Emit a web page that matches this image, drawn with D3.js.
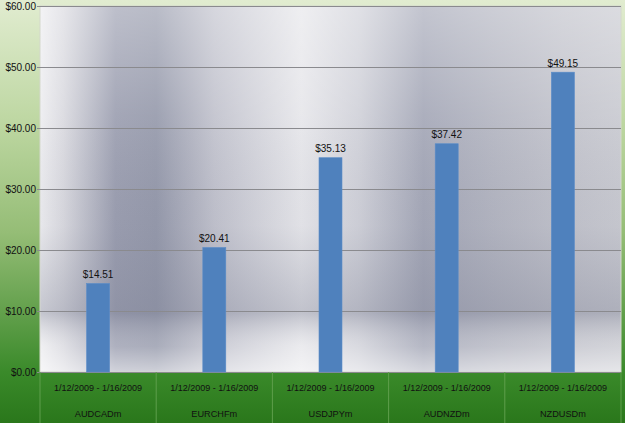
<!DOCTYPE html>
<html>
<head>
<meta charset="utf-8">
<script src="https://cdn.jsdelivr.net/npm/d3@7"></script>
<style>
  html, body { margin: 0; padding: 0; background: #fff; }
  svg { display: block; }
</style>
</head>
<body>
<div id="chart"></div>
<script>
(function () {

    // data
    const pairs = ["AUDCADm", "EURCHFm", "USDJPYm", "AUDNZDm", "NZDUSDm"];
    const periods = ["1/12/2009 - 1/16/2009", "1/12/2009 - 1/16/2009", "1/12/2009 - 1/16/2009", "1/12/2009 - 1/16/2009", "1/12/2009 - 1/16/2009"];
    const profits = [14.51, 20.41, 35.13, 37.42, 49.15];
    const yTicks = [0, 10, 20, 30, 40, 50, 60];

    const width = 625;
    const height = 423;
    const margin = ({ top: 6, right: 4, bottom: 51, left: 40 });
    const font = "'Liberation Sans', Arial, sans-serif";

    const svg = d3.select("#chart")
        .append("svg")
        .attr("width", width)
        .attr("height", height)
        .style("font-family", font);

    const defs = svg.append("defs");

    //Green chart background
    const bg = defs.append("linearGradient").attr("id", "bg")
        .attr("x1", 0).attr("y1", 0).attr("x2", 0).attr("y2", 1);
    [[0, "#e1ecd0"], [0.3, "#bcd6a0"], [0.55, "#95bd76"], [0.75, "#5f9e49"], [0.88, "#3a8a2a"], [1, "#2a771b"]]
        .forEach(([o, c]) => bg.append("stop").attr("offset", o).attr("stop-color", c));

    //Metallic plot fill
    const metal = defs.append("linearGradient").attr("id", "metal")
        .attr("x1", 0).attr("y1", 0).attr("x2", 1).attr("y2", 0);
    [[0, "#ededf0"], [0.04, "#d9d9df"], [0.13, "#9a9daf"], [0.2, "#9498aa"], [0.3, "#c0c1cc"], [0.45, "#e6e6ea"],
     [0.55, "#cfd0d8"], [0.66, "#a3a6b6"], [0.78, "#b2b4c0"], [0.9, "#c0c1ca"], [1, "#c8c9d0"]]
        .forEach(([o, c]) => metal.append("stop").attr("offset", o).attr("stop-color", c));

    const shade = defs.append("linearGradient").attr("id", "shade")
        .attr("x1", 0).attr("y1", 0).attr("x2", 0).attr("y2", 1);
    [[0, "#ffffff", 0.35], [0.3, "#ffffff", 0.1], [0.6, "#7c8094", 0.05], [0.84, "#7c8094", 0.35], [0.93, "#ffffff", 0.2], [1, "#ffffff", 0.55]]
        .forEach(([o, c, a]) => shade.append("stop").attr("offset", o).attr("stop-color", c).attr("stop-opacity", a));

    svg.append("rect")
        .attr("width", width)
        .attr("height", height)
        .attr("fill", "url(#bg)");

    const x = d3.scaleBand()
        .domain(d3.range(pairs.length))
        .range([margin.left, width - margin.right])
        .paddingInner(0)
        .paddingOuter(0);

    const y = d3.scaleLinear()
        .domain([0, 60])
        .range([height - margin.bottom, margin.top]);

    const plotW = width - margin.right - margin.left;
    const plotH = y(0) - y(60);

    svg.append("rect")
        .attr("x", margin.left).attr("y", margin.top)
        .attr("width", plotW).attr("height", plotH)
        .attr("fill", "url(#metal)");
    svg.append("rect")
        .attr("x", margin.left).attr("y", margin.top)
        .attr("width", plotW).attr("height", plotH)
        .attr("fill", "url(#shade)")
        .attr("stroke", "#d4d8cc")
        .attr("stroke-width", 1);

    //Y axis with gridlines
    const yAxisG = svg.append("g")
        .attr("transform", `translate(${margin.left},0)`)
        .call(d3.axisLeft(y).tickValues(yTicks).tickSize(-plotW).tickPadding(4)
            .tickFormat(d => "$" + d3.format(".2f")(d)));
    yAxisG.select(".domain").remove();
    yAxisG.selectAll(".tick line").attr("stroke", "#8a8a8e").attr("x1", -3);
    yAxisG.selectAll(".tick text")
        .attr("fill", "#111")
        .style("font-size", "10px")
        .style("font-family", font);

    //Bars
    const barW = 23;
    svg.append("g")
        .selectAll("rect")
        .data(profits)
        .join("rect")
        .attr("x", (d, i) => x(i) + x.bandwidth() / 2 - barW / 2)
        .attr("y", d => y(d))
        .attr("width", barW)
        .attr("height", d => y(0) - y(d))
        .attr("fill", "#4f81bd")
        .attr("stroke", "#5a8cc8")
        .attr("stroke-width", 0.6);

    svg.append("g")
        .selectAll("text")
        .data(profits)
        .join("text")
        .attr("x", (d, i) => x(i) + x.bandwidth() / 2)
        .attr("y", d => y(d) - 5.5)
        .attr("text-anchor", "middle")
        .attr("font-size", 10)
        .attr("fill", "#111")
        .text(d => "$" + d.toFixed(2));

    //Category axis: two label rows and dividers
    const catG = svg.append("g");
    catG.selectAll("line")
        .data(d3.range(pairs.length + 1))
        .join("line")
        .attr("x1", i => i < pairs.length ? x(i) : width - margin.right)
        .attr("x2", i => i < pairs.length ? x(i) : width - margin.right)
        .attr("y1", y(0))
        .attr("y2", height)
        .attr("stroke", "#5e9e4c")
        .attr("stroke-width", 1);

    catG.selectAll(".period")
        .data(periods)
        .join("text")
        .attr("class", "period")
        .attr("x", (d, i) => x(i) + x.bandwidth() / 2)
        .attr("y", y(0) + 19)
        .attr("text-anchor", "middle")
        .attr("font-size", 9)
        .attr("fill", "#111")
        .text(d => d);

    catG.selectAll(".pair")
        .data(pairs)
        .join("text")
        .attr("class", "pair")
        .attr("x", (d, i) => x(i) + x.bandwidth() / 2)
        .attr("y", y(0) + 45)
        .attr("text-anchor", "middle")
        .attr("font-size", 9.2)
        .attr("fill", "#111")
        .text(d => d);

})();
</script>
</body>
</html>
